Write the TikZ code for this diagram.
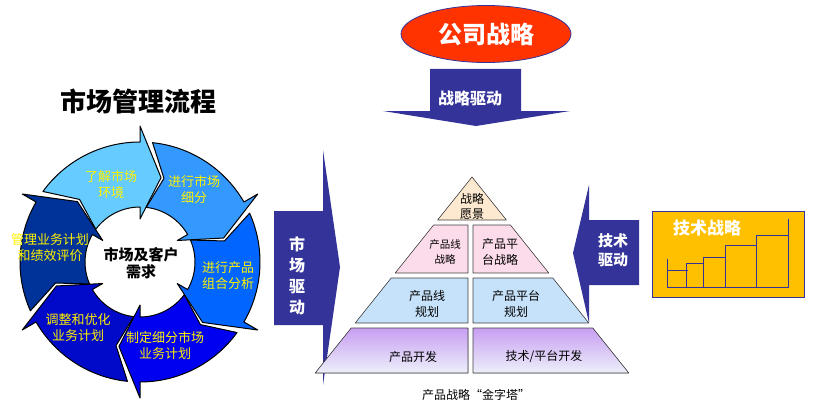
\documentclass[tikz,border=0pt]{standalone}
\usepackage{fontspec}
\setmainfont{Noto Sans CJK SC}
\usetikzlibrary{positioning,shapes.geometric,calc}
\definecolor{drivecol}{RGB}{51,51,153}
\definecolor{corpred}{RGB}{255,51,0}
\definecolor{gold}{RGB}{255,192,0}
\definecolor{segA}{RGB}{102,204,255}
\definecolor{segB}{RGB}{51,153,255}
\definecolor{segC}{RGB}{0,102,255}
\definecolor{segD}{RGB}{0,0,240}
\definecolor{segE}{RGB}{0,10,200}
\definecolor{segF}{RGB}{0,51,153}
\definecolor{pyrpeach}{RGB}{253,233,208}
\definecolor{pyrpink}{RGB}{252,220,234}
\definecolor{pyrblue}{RGB}{198,226,250}
\definecolor{pyrlilac}{RGB}{200,158,242}
\definecolor{pyrpale}{RGB}{236,240,250}
\tikzset{
  drive/.style={fill=drivecol},
  drivelbl/.style={text=white,font=\bfseries\fontsize{16}{20}\selectfont,align=center,inner sep=0pt},
  cyc/.style={draw=black,line width=1pt,line join=round},
  cyclbl/.style={text=yellow,font=\fontsize{13}{16}\selectfont,align=center,inner sep=0pt},
  pyr/.style={draw=black!75,line width=0.6pt,line join=round},
  pyrlbl/.style={font=\fontsize{12}{16}\selectfont,align=center,inner sep=0pt},
  stairs/.style={draw=drivecol,line width=1pt},
}
\begin{document}
\begin{tikzpicture}[x=1pt,y=-1pt]
  \useasboundingbox (0,0) rectangle (819,420);
  % company strategy on top, drive arrow below it
  \node[ellipse,draw=drivecol,line width=0.8pt,fill=corpred,minimum width=170pt,minimum height=57pt,
    text=white,font=\bfseries\fontsize{24}{26}\selectfont] (corp) at (486,34) {公司战略};
  \fill[drive] (430,69) -- (521,69) -- (521,111) -- (570,111) -- (476,126) -- (383,111) -- (430,111) -- cycle;
  \node[drivelbl] (stratdrv) at (470,98) {战略驱动};
  % market drive (left) and technology drive (right)
  \fill[drive] (274,211) -- (323,211) -- (323,150) -- (340,267) -- (323,385) -- (323,325) -- (274,325) -- cycle;
  \node[drivelbl,font=\bfseries\fontsize{16}{21}\selectfont] (mktdrv) at (297,276) {市\\场\\驱\\动};
  \fill[drive] (639,220) -- (589,220) -- (589,185) -- (573,253) -- (589,323) -- (589,285) -- (639,285) -- cycle;
  \node[drivelbl,font=\bfseries\fontsize{15}{19}\selectfont] (techdrv) at (613,250) {技术\\驱动};
  % technology strategy box with staircase
  \node[draw=drivecol,line width=1pt,fill=gold,minimum width=152pt,minimum height=86pt] (techbox) at (728,254) {};
  \node[text=white,font=\bfseries\fontsize{17}{19}\selectfont,inner sep=0pt] (techlbl) at (707,228) {技术战略};
  \draw[stairs] (667,259) -- (667,287) -- (788,287) -- (788,219);
  \draw[stairs] (667,270) -- (688,270);
  \foreach \xl/\xr/\yt in {686/703/263, 703/725/257, 725/756/245, 756/788/235}
    \draw[stairs] (\xl,287) -- (\xl,\yt) -- (\xr,\yt);
  % product strategy pyramid
  \filldraw[pyr,fill=pyrpeach] (472,177) -- (506.4,220) -- (437.6,220) -- cycle;
  \foreach \yt/\yb/\col in {225/273/pyrpink, 278/323/pyrblue}{
    \filldraw[pyr,fill=\col] ({472-0.8*(\yt-177)},\yt) -- (468,\yt) -- (468,\yb) -- ({472-0.8*(\yb-177)},\yb) -- cycle;
    \filldraw[pyr,fill=\col] (473,\yt) -- ({472+0.8*(\yt-177)},\yt) -- ({472+0.8*(\yb-177)},\yb) -- (473,\yb) -- cycle;
  }
  \filldraw[pyr,top color=pyrlilac,bottom color=pyrpale] (351.2,328) -- (468,328) -- (468,373) -- (315.2,373) -- cycle;
  \filldraw[pyr,top color=pyrlilac,bottom color=pyrpale] (473,328) -- (592.8,328) -- (628.8,373) -- (473,373) -- cycle;
  \node[pyrlbl,font=\fontsize{12}{15}\selectfont] (vision) at (472,206) {战略\\愿景};
  \node[pyrlbl,font=\fontsize{10.5}{15}\selectfont] (plstrat) at (445,252) {产品线\\战略};
  \node[pyrlbl] (pfstrat) at (500,252) {产品平\\台战略};
  \node[pyrlbl] (plplan) at (427,304) {产品线\\规划};
  \node[pyrlbl] (pfplan) at (516,304) {产品平台\\规划};
  \node[pyrlbl] (pdev) at (413,357) {产品开发};
  \node[pyrlbl] (tdev) at (544,357) {技术/平台开发};
  \node[pyrlbl] (pyrcap) at (476,395) {产品战略“金字塔”};
  % market management cycle
  \node[font=\bfseries\fontsize{26}{28}\selectfont,inner sep=0pt] (mtitle) at (138,101) {市场管理流程};
  \begin{scope}[shift={(140,262)},x=1pt,y=1pt]
    \foreach \s/\col in {146/segA, 86/segB, 26/segC, -34/segD, -94/segE, -154/segF}{
      \pgfmathsetmacro\e{\s-60}
      \filldraw[cyc,fill=\col] ({\s-2}:120) arc[start angle=\s-2,end angle=\e+4,radius=120]
        -- ({\e+4}:136) -- ({\e-10}:87) -- ({\e+4}:43) -- ({\e+4}:55)
        arc[start angle=\e+4,end angle=\s-2.5,radius=55] -- ({\s-12}:87) -- cycle;
    }
  \end{scope}
  \node[font=\bfseries\fontsize{15}{17}\selectfont,align=center,inner sep=0pt] (need) at (141,263) {市场及客户\\需求};
  \node[cyclbl] (c1) at (111,185) {了解市场\\环境};
  \node[cyclbl] (c2) at (194,190) {进行市场\\细分};
  \node[cyclbl] (c3) at (228,276) {进行产品\\组合分析};
  \node[cyclbl] (c4) at (165,346) {制定细分市场\\业务计划};
  \node[cyclbl] (c5) at (78,328) {调整和优化\\业务计划};
  \node[cyclbl] (c6) at (50,248) {管理业务计划\\和绩效评价};
\end{tikzpicture}
\end{document}
